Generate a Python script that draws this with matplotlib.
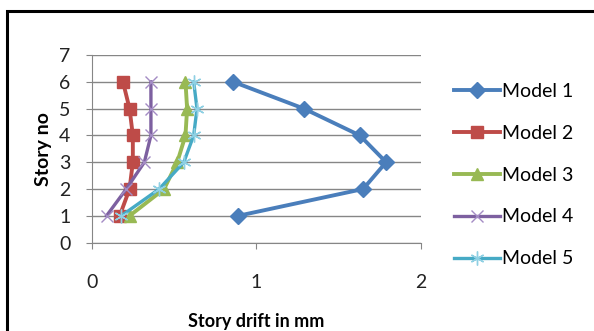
import matplotlib
matplotlib.use("Agg")
import matplotlib.pyplot as plt
from matplotlib.patches import Rectangle

plt.rcParams['font.family'] = ['Lato', 'DejaVu Sans']

stories = [1, 2, 3, 4, 5, 6]
model1 = [0.89, 1.65, 1.79, 1.63, 1.29, 0.86]
model2 = [0.17, 0.23, 0.25, 0.25, 0.23, 0.19]
model3 = [0.23, 0.44, 0.52, 0.57, 0.58, 0.57]
model4 = [0.09, 0.21, 0.32, 0.36, 0.36, 0.36]
model5 = [0.18, 0.41, 0.56, 0.62, 0.64, 0.62]
labels = ['Model 1', 'Model 2', 'Model 3', 'Model 4', 'Model 5']

fig = plt.figure(figsize=(5.94, 3.31), dpi=100)
ax = fig.add_axes([0.1544, 0.267, 0.5538, 0.5668])

# outer chart border (cut off on right/bottom like the screenshot)
fig.patches.append(Rectangle((7/594, -0.2), 1.2, 1 - 11.5/331 + 0.2,
                             transform=fig.transFigure, fill=False,
                             edgecolor='black', linewidth=2.2))

ax.plot(model1, stories, color='#4A7EBB', lw=2.8, marker='D', ms=8,
        label=labels[0], zorder=3)
ax.plot(model2, stories, color='#BE4B48', lw=2.8, marker='s', ms=8.5,
        label=labels[1], zorder=3)
ax.plot(model3, stories, color='#98B954', lw=2.8, marker='^', ms=9,
        label=labels[2], zorder=3)
ax.plot(model4, stories, color='#7D60A0', lw=2.4, marker='x', ms=9,
        mew=1.0, mec='#A48CC4', label=labels[3], zorder=3)
ax.plot(model5, stories, color='#46AAC5', lw=2.4, marker=(6, 2, 0), ms=10,
        mew=1.0, mec='#8FD0E3', label=labels[4], zorder=3)

ax.set_xlim(0, 2)
ax.set_ylim(0, 7)
ax.set_xticks([0, 1, 2])
ax.set_yticks(range(8))
ax.grid(axis='y', color='#868686', lw=1)
ax.set_axisbelow(True)
for s in ['top', 'right']:
    ax.spines[s].set_visible(False)
for s in ['left', 'bottom']:
    ax.spines[s].set_color('#868686')
ax.tick_params(colors='#868686', labelcolor='#222222', labelsize=14,
               length=4.3, direction='out')
ax.tick_params(axis='y', pad=11)
ax.tick_params(axis='x', pad=18)

ax.set_xlabel('Story drift in mm', fontsize=13, fontweight='bold', labelpad=16)
ax.set_ylabel('Story no', fontsize=14, fontweight='bold', labelpad=5)

ax.legend(loc='center left', bbox_to_anchor=(1.048, 0.36), frameon=False,
          fontsize=14, handlelength=2.37, handletextpad=0.1,
          labelspacing=1.28)

fig.savefig('out.png', dpi=100)
